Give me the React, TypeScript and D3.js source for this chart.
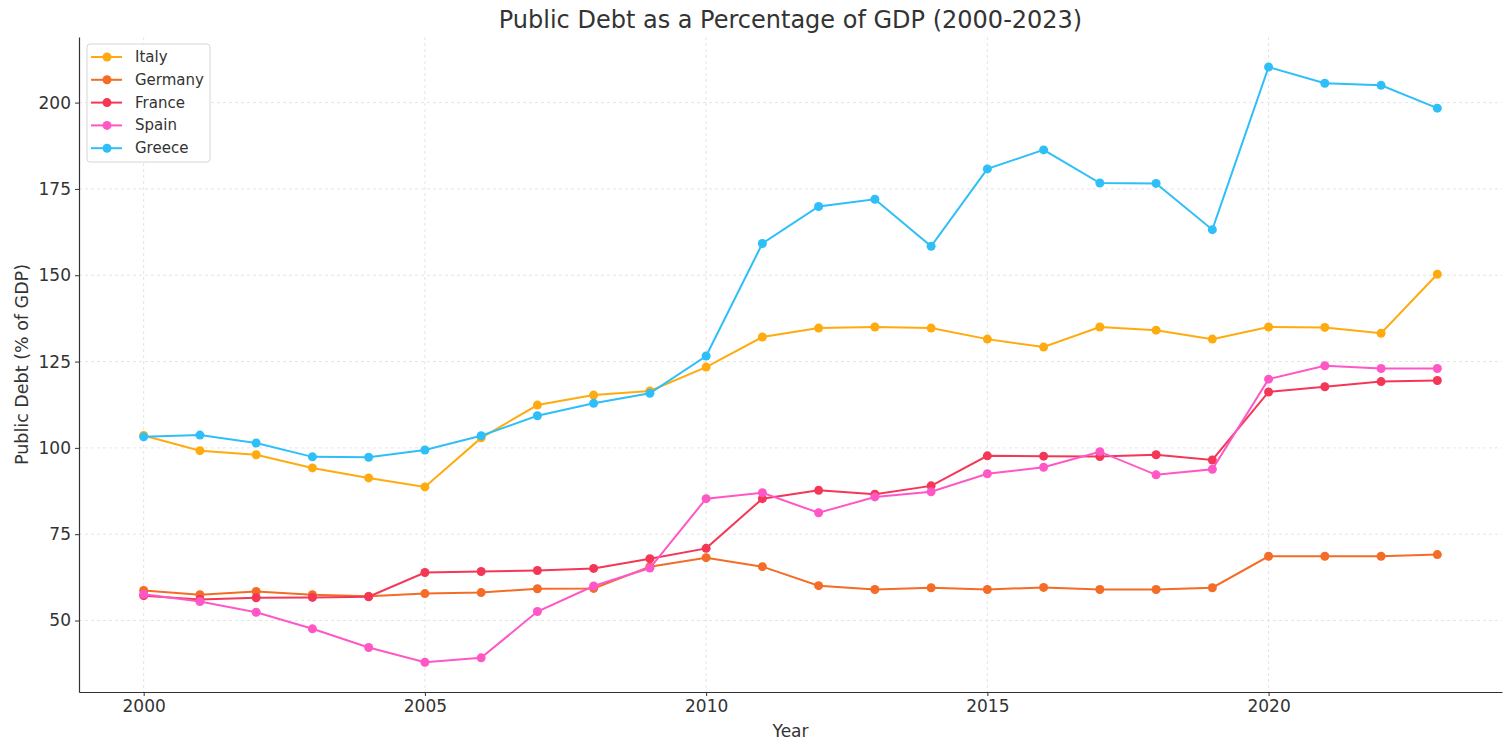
import React, { useRef, useEffect } from 'react';
import * as d3 from 'd3';

const years = d3.range(2000, 2024);
const italy = [103.6, 99.2, 98.0, 94.2, 91.3, 88.7, 102.9, 112.4, 115.3, 116.5, 123.4, 132.1, 134.7, 135.0, 134.7, 131.5, 129.2, 135.0, 134.1, 131.5, 135.0, 134.9, 133.2, 150.3];
const germany = [58.7, 57.5, 58.4, 57.5, 57.0, 57.8, 58.1, 59.2, 59.3, 65.6, 68.2, 65.6, 60.1, 59.0, 59.5, 59.0, 59.6, 59.0, 59.0, 59.5, 68.6, 68.6, 68.6, 69.1];
const france = [57.2, 56.1, 56.6, 56.7, 56.9, 63.9, 64.2, 64.5, 65.1, 67.9, 70.9, 85.3, 87.7, 86.6, 89.0, 97.7, 97.6, 97.5, 98.0, 96.5, 116.2, 117.7, 119.2, 119.5];
const spain = [57.6, 55.5, 52.4, 47.6, 42.2, 37.9, 39.2, 52.6, 60.0, 65.2, 85.3, 87.0, 81.2, 85.8, 87.3, 92.5, 94.4, 98.9, 92.2, 93.8, 119.9, 123.8, 123.0, 123.0];
const greece = [103.2, 103.7, 101.4, 97.4, 97.3, 99.4, 103.5, 109.3, 112.9, 115.8, 126.6, 159.2, 169.9, 172.0, 158.4, 180.8, 186.3, 176.7, 176.6, 163.2, 210.3, 205.6, 205.0, 198.4];

const seriesNames = ['Italy', 'Germany', 'France', 'Spain', 'Greece'];
const seriesValues = [italy, germany, france, spain, greece];
const seriesColors = ['#ffab0f', '#f46c25', '#f43757', '#ff57c6', '#2ebff9'];

const xTicks = [2000, 2005, 2010, 2015, 2020];
const yTicks = [50, 75, 100, 125, 150, 175, 200];

const App: React.FC = () => {
  const svgRef = useRef<SVGSVGElement | null>(null);

  useEffect(() => {
    const svg = d3.select(svgRef.current);
    svg.selectAll('*').remove();

    const W = 1503;
    const H = 741;
    const margin = { top: 37, right: 1, bottom: 49, left: 79 };
    const width = W - margin.left - margin.right;
    const height = H - margin.top - margin.bottom;
    const font = 'DejaVu Sans, sans-serif';

    const x = d3.scaleLinear().domain([1998.85, 2024.15]).range([0, width]);
    const y = d3.scaleLinear().domain([29.3, 219.0]).range([height, 0]);

    svg.append('rect').attr('width', W).attr('height', H).attr('fill', '#fff');

    svg.append('text')
      .attr('x', margin.left + width / 2)
      .attr('y', 28)
      .attr('text-anchor', 'middle')
      .attr('font-family', font)
      .attr('font-size', 24)
      .attr('fill', '#333')
      .text('Public Debt as a Percentage of GDP (2000-2023)');

    const g = svg.append('g').attr('transform', `translate(${margin.left},${margin.top})`);

    // grid
    g.append('g').selectAll('line').data(xTicks).join('line')
      .attr('x1', (d) => x(d)).attr('x2', (d) => x(d))
      .attr('y1', 0).attr('y2', height)
      .attr('stroke', '#ddd').attr('stroke-dasharray', '3,3').attr('stroke-width', 0.8);
    g.append('g').selectAll('line').data(yTicks).join('line')
      .attr('x1', 0).attr('x2', width)
      .attr('y1', (d) => y(d)).attr('y2', (d) => y(d))
      .attr('stroke', '#ddd').attr('stroke-dasharray', '3,3').attr('stroke-width', 0.8);

    // axes
    const xAxis = g.append('g')
      .attr('transform', `translate(0,${height})`)
      .call(d3.axisBottom(x).tickValues(xTicks).tickFormat(d3.format('d')).tickSize(4).tickSizeOuter(0).tickPadding(4));
    const yAxis = g.append('g')
      .call(d3.axisLeft(y).tickValues(yTicks).tickSize(4).tickSizeOuter(0).tickPadding(4));
    [xAxis, yAxis].forEach((a) => {
      a.selectAll('text').attr('font-family', font).attr('font-size', 17).attr('fill', '#333');
      a.selectAll('line').attr('stroke', '#333');
      a.select('.domain').attr('stroke', '#333').attr('stroke-width', 1.2);
    });

    svg.append('text')
      .attr('x', margin.left + width / 2)
      .attr('y', 737)
      .attr('text-anchor', 'middle')
      .attr('font-family', font)
      .attr('font-size', 17)
      .attr('fill', '#333')
      .text('Year');

    svg.append('text')
      .attr('transform', `translate(28,${margin.top + height / 2}) rotate(-90)`)
      .attr('text-anchor', 'middle')
      .attr('font-family', font)
      .attr('font-size', 17.5)
      .attr('fill', '#333')
      .text('Public Debt (% of GDP)');

    const line = d3.line<number>()
      .x((_, i) => x(years[i]))
      .y((d) => y(d));

    seriesValues.forEach((vals, k) => {
      const s = g.append('g');
      s.append('path')
        .datum(vals)
        .attr('d', line)
        .attr('fill', 'none')
        .attr('stroke', seriesColors[k])
        .attr('stroke-width', 2);
      s.selectAll('circle').data(vals).join('circle')
        .attr('cx', (_, i) => x(years[i]))
        .attr('cy', (d) => y(d))
        .attr('r', 4.5)
        .attr('fill', seriesColors[k]);
    });

    // legend
    const lg = svg.append('g').attr('transform', 'translate(87,44)');
    lg.append('rect')
      .attr('width', 123).attr('height', 118).attr('rx', 3)
      .attr('fill', '#fff').attr('fill-opacity', 0.85)
      .attr('stroke', '#d6d6d6');
    seriesNames.forEach((name, k) => {
      const yy = 13 + k * 22.8;
      lg.append('line')
        .attr('x1', 4).attr('x2', 35).attr('y1', yy).attr('y2', yy)
        .attr('stroke', seriesColors[k]).attr('stroke-width', 2);
      lg.append('circle').attr('cx', 20).attr('cy', yy).attr('r', 4.5).attr('fill', seriesColors[k]);
      lg.append('text')
        .attr('x', 48).attr('y', yy + 5)
        .attr('font-family', font).attr('font-size', 15).attr('fill', '#333')
        .text(name);
    });
  }, []);

  return (
    <svg
      ref={svgRef}
      width={1503}
      height={741}
      style={{ position: 'absolute', left: 0, top: 0 }}
    />
  );
};

export default App;
